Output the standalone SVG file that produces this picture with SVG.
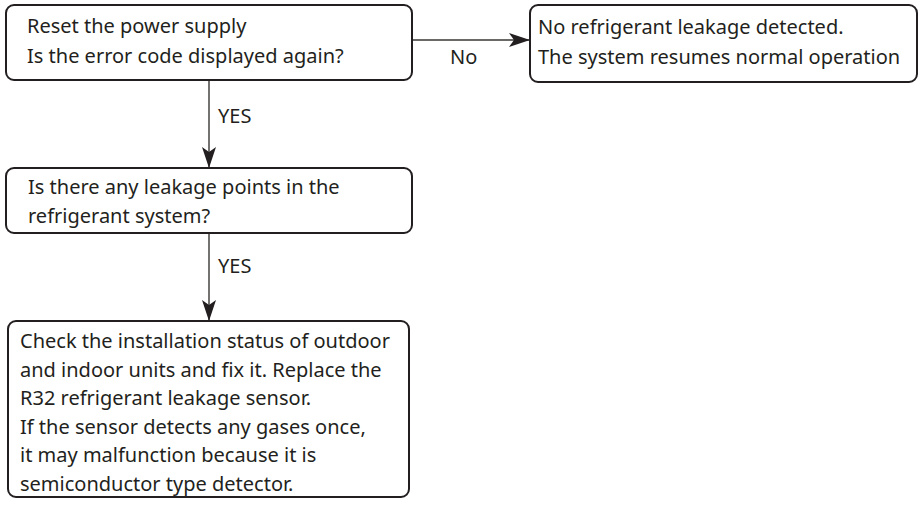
<svg xmlns="http://www.w3.org/2000/svg" width="918" height="506" viewBox="0 0 918 506">
<style>
.box{fill:#fff;stroke:#231f20;stroke-width:2}
.t{font-family:"Noto Sans","Open Sans",sans-serif;font-size:20px;fill:#231f20}
.c{stroke:#3a3636;stroke-width:1.4;fill:none}
</style>
<defs>
<marker id="ah" markerUnits="userSpaceOnUse" markerWidth="22" markerHeight="14" refX="21" refY="7" orient="auto">
<path d="M0,0 L21,7 L0,14 L5,7 Z" fill="#231f20"/>
</marker>
</defs>
<rect width="918" height="506" fill="#fff"/>
<g id="connectors">
<line class="c" x1="412" y1="40" x2="530" y2="40" marker-end="url(#ah)"/>
<line class="c" x1="209" y1="80" x2="209" y2="168" marker-end="url(#ah)"/>
<line class="c" x1="209" y1="233" x2="209" y2="321" marker-end="url(#ah)"/>
<text class="t" x="450" y="64">No</text>
<text class="t" x="218" y="123">YES</text>
<text class="t" x="218" y="273">YES</text>
</g>
<g id="n1">
<rect class="box" x="6" y="5" width="406" height="75" rx="8"/>
<text class="t" x="27" y="33">Reset the power supply</text>
<text class="t" x="27" y="63">Is the error code displayed again?</text>
</g>
<g id="n2">
<rect class="box" x="530" y="5" width="387" height="77" rx="8"/>
<text class="t" x="538" y="34">No refrigerant leakage detected.</text>
<text class="t" x="538" y="64">The system resumes normal operation</text>
</g>
<g id="n3">
<rect class="box" x="6" y="168" width="406" height="65" rx="8"/>
<text class="t" x="28" y="194">Is there any leakage points in the</text>
<text class="t" x="28" y="223">refrigerant system?</text>
</g>
<g id="n4">
<rect class="box" x="8" y="321" width="401" height="176" rx="8"/>
<text class="t" x="20" y="348">Check the installation status of outdoor</text>
<text class="t" x="20" y="376.5">and indoor units and fix it. Replace the</text>
<text class="t" x="20" y="405">R32 refrigerant leakage sensor.</text>
<text class="t" x="20" y="433.5">If the sensor detects any gases once,</text>
<text class="t" x="20" y="462">it may malfunction because it is</text>
<text class="t" x="20" y="490.5">semiconductor type detector.</text>
</g>
</svg>
